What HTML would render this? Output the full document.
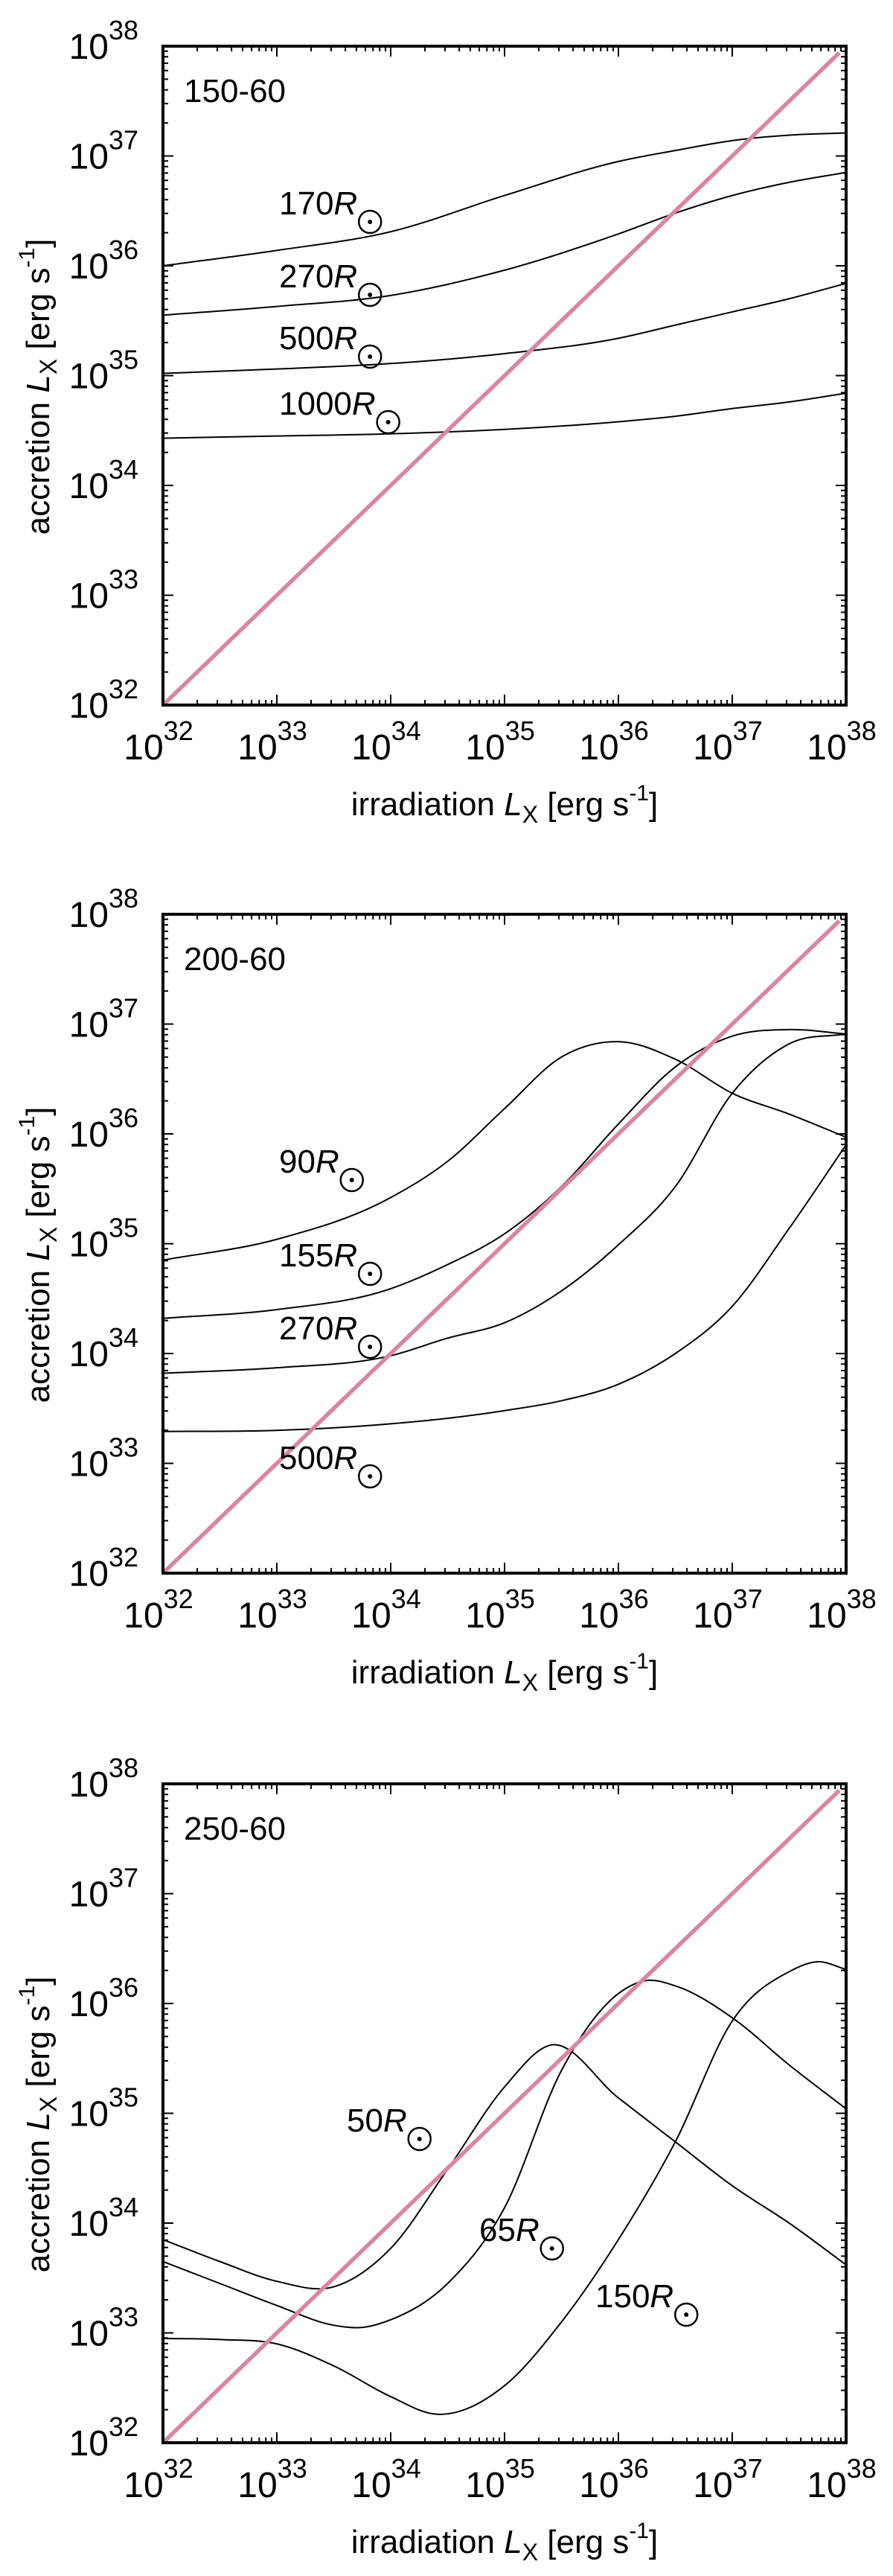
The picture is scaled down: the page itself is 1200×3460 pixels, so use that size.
<!DOCTYPE html>
<html><head><meta charset="utf-8">
<style>
html,body{margin:0;padding:0;background:#fff;}
svg{display:block;font-family:"Liberation Sans",Arial,sans-serif;}
</style></head>
<body>
<svg id="fig" width="1200" height="3460" viewBox="0 0 1200 3460" xmlns="http://www.w3.org/2000/svg"></svg>
<script>
// ---- data (log10 values) ----
const xTickExps = [32,33,34,35,36,37,38];
const yTickExps = [32,33,34,35,36,37,38];
const panelTitles = ["150-60","200-60","250-60"];

const p1X = [32,33,34,35,36,36.5,37,37.5,38];
const p1_170 = [36.0,36.14,36.31,36.64,36.95,37.05,37.14,37.19,37.21];
const p1_270 = [35.55,35.63,35.73,35.96,36.29,36.48,36.64,36.76,36.85];
const p1_500 = [35.02,35.06,35.11,35.2,35.34,35.46,35.58,35.70,35.84];
const p1_1000 = [34.43,34.45,34.47,34.51,34.58,34.63,34.70,34.76,34.84];

const p2X = [32,33,34,34.5,35,35.5,36,36.5,37,37.5,38];
const p2_90 = [34.85,35.04,35.42,35.75,36.23,36.70,36.84,36.68,36.37,36.18,35.97];
const p2_155 = [34.32,34.40,34.59,34.81,35.09,35.52,36.09,36.61,36.89,36.95,36.91];
const p2_270 = [33.82,33.87,33.98,34.14,34.28,34.57,34.99,35.52,36.37,36.82,36.91];
const p2_500 = [33.29,33.30,33.36,33.41,33.48,33.57,33.72,34.00,34.43,35.14,35.90];

const p3X = [32,32.5,33,33.5,34,34.5,35,35.4,36,36.5,37,37.5,38];
const p3_50 = [33.85,33.65,33.47,33.42,33.77,34.49,35.24,35.62,35.14,34.74,34.34,34.00,33.62];
const p3X65 = [32,32.5,33,33.5,33.75,34,34.5,35,35.5,36,36.25,36.5,37,37.5,38];
const p3_65 = [33.65,33.45,33.25,33.07,33.05,33.12,33.45,34.14,35.39,36.09,36.21,36.16,35.87,35.44,35.04];
const p3X150 = [32,32.5,33,33.5,34,34.4,35,35.5,36,36.5,37,37.5,37.75,38];
const p3_150 = [32.95,32.94,32.90,32.70,32.42,32.26,32.52,33.10,33.85,34.74,35.84,36.29,36.38,36.31];

const panels = [
  {top:62, title:panelTitles[0], series:[
    {name:"170",x:p1X,y:p1_170},{name:"270",x:p1X,y:p1_270},{name:"500",x:p1X,y:p1_500},{name:"1000",x:p1X,y:p1_1000}],
   labels:[["170",375,288],["270",375,386],["500",375,469],["1000",375,557]]},
  {top:1228, title:panelTitles[1], series:[
    {name:"90",x:p2X,y:p2_90},{name:"155",x:p2X,y:p2_155},{name:"270",x:p2X,y:p2_270},{name:"500",x:p2X,y:p2_500}],
   labels:[["90",375,1575],["155",375,1701],["270",375,1799],["500",375,1973]]},
  {top:2396, title:panelTitles[2], series:[
    {name:"50",x:p3X,y:p3_50},{name:"65",x:p3X65,y:p3_65},{name:"150",x:p3X150,y:p3_150}],
   labels:[["50",466,2863],["65",644,3010],["150",800,3099]]}
];

const NS="http://www.w3.org/2000/svg";
const svg=document.getElementById('fig');
const L=219,R=1137,H=885;
function mk(tag,attrs,parent){const e=document.createElementNS(NS,tag);for(const k in attrs)e.setAttribute(k,attrs[k]);(parent||svg).appendChild(e);return e;}

panels.forEach((p,pi)=>{
  const T=p.top,B=T+H;
  const sx=v=>L+(v-32)/6*(R-L);
  const sy=v=>B-(v-32)/6*H;
  const g=mk('g',{});
  
  
  const clipId='clip'+pi;
  const cp=mk('clipPath',{id:clipId},g);mk('rect',{x:L,y:T,width:R-L,height:H},cp);
  for(let d=32;d<38;d++){
    for(let m=1;m<10;m++){
      const v=d+Math.log10(m);
      const len=m===1?14:7;
      if(m===1&&d===32)continue;
      const X=sx(v),Y=sy(v);
      const t1=mk('path',{d:`M${X},${B}v${-len}M${X},${T}v${len}M${L},${Y}h${len}M${R},${Y}h${-len}`,stroke:'#000','stroke-width':2,fill:'none'},g);
      
      
    }
  }
  xTickExps.forEach(e=>{
    const t=mk('text',{x:sx(e)-6,y:B+73,'text-anchor':'middle','font-size':48},g);
    
    
    t.innerHTML='10<tspan dy="-26" font-size="36">'+e+'</tspan>';
  });
  yTickExps.forEach(e=>{
    const t=mk('text',{x:186,y:sy(e)+17,'text-anchor':'end','font-size':48},g);
    
    
    t.innerHTML='10<tspan dy="-26" font-size="36">'+e+'</tspan>';
  });
  const xt=mk('text',{x:(L+R)/2,y:B+148,'text-anchor':'middle','font-size':44},g);
  
  
  xt.innerHTML='irradiation <tspan font-style="italic">L</tspan><tspan font-size="32" dy="10">X</tspan><tspan dy="-10"> [erg s</tspan><tspan font-size="30" dy="-20">-1</tspan><tspan dy="20">]</tspan>';
  const yt=mk('text',{x:0,y:0,'text-anchor':'middle','font-size':44,transform:`translate(66,${(T+B)/2+15}) rotate(-90)`},g);
  
  
  yt.innerHTML='accretion <tspan font-style="italic">L</tspan><tspan font-size="32" dy="10">X</tspan><tspan dy="-10"> [erg s</tspan><tspan font-size="30" dy="-20">-1</tspan><tspan dy="20">]</tspan>';
  const pt=mk('text',{x:247,y:T+75,'font-size':44},g);
  
  
  pt.textContent=p.title;
  // curves: cubic Hermite in data space with non-uniform tangents
  p.series.forEach(s=>{
    const xs=s.x, ys=s.y, n=xs.length;
    const m=xs.map((_,i)=>{
      if(i===0)return (ys[1]-ys[0])/(xs[1]-xs[0]);
      if(i===n-1)return (ys[n-1]-ys[n-2])/(xs[n-1]-xs[n-2]);
      const d0=(ys[i]-ys[i-1])/(xs[i]-xs[i-1]), d1=(ys[i+1]-ys[i])/(xs[i+1]-xs[i]);
      const h0=xs[i]-xs[i-1], h1=xs[i+1]-xs[i];
      return (d0*h1+d1*h0)/(h0+h1);
    });
    let d=`M${sx(xs[0])},${sy(ys[0])}`;
    for(let i=0;i<n-1;i++){
      const h=xs[i+1]-xs[i];
      d+=`C${sx(xs[i]+h/3)},${sy(ys[i]+m[i]*h/3)} ${sx(xs[i+1]-h/3)},${sy(ys[i+1]-m[i+1]*h/3)} ${sx(xs[i+1])},${sy(ys[i+1])}`;
    }
    const c=mk('path',{d:d,fill:'none',stroke:'#000','stroke-width':2,'clip-path':`url(#${clipId})`},g);
    
    
  });
  const dg=mk('line',{x1:sx(32),y1:sy(32),x2:sx(37.94),y2:sy(37.94),stroke:'#d9869f','stroke-width':5.5},g);
  
  
  p.labels.forEach(lb=>{
    const t=mk('text',{x:lb[1],y:lb[2],'font-size':44},g);
    
    
    t.innerHTML=lb[0]+'<tspan font-style="italic">R</tspan>';
    const w=t.getComputedTextLength();
    const cx=lb[1]+w+17, cy=lb[2]+10;
    const sc=mk('circle',{cx:cx,cy:cy,r:15,fill:'none',stroke:'#000','stroke-width':2.5},g);
    
    
    const sd=mk('circle',{cx:cx,cy:cy,r:3,fill:'#000'},g);
    
    
  });
  const fr=mk('rect',{x:L,y:T,width:R-L,height:H,fill:'none',stroke:'#000','stroke-width':4},g);
  
  
});
</script>
</body></html>
